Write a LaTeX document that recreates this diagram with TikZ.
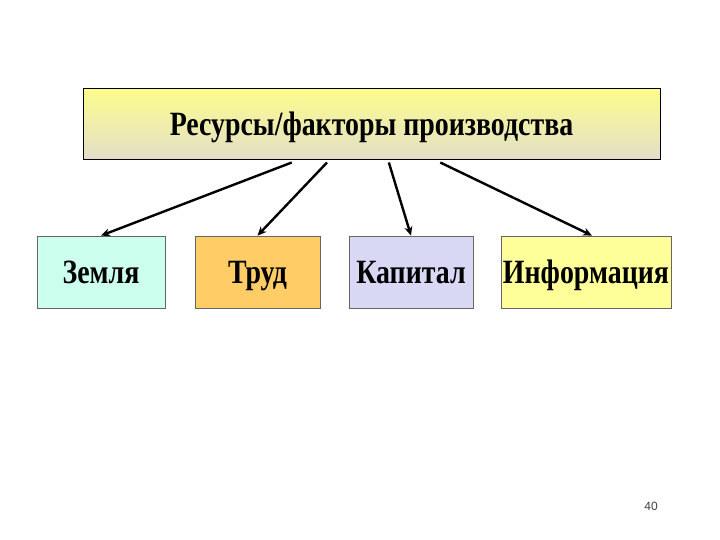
\documentclass[tikz,border=0pt]{standalone}
\usepackage{fontspec}
\setmainfont{Liberation Serif}
\newfontfamily\boxfont[FakeStretch=0.82]{Liberation Serif}
\newfontfamily\pagefont{Liberation Sans}
\usetikzlibrary{arrows.meta,calc}
\definecolor{zemlya}{RGB}{204,255,238}
\definecolor{trud}{RGB}{255,204,102}
\definecolor{kapital}{RGB}{216,216,244}
\definecolor{inform}{RGB}{255,255,153}
\tikzset{
  boxtext/.style={font=\boxfont\bfseries\fontsize{34}{34}\selectfont,inner sep=0pt,
    text height=22.5pt,text depth=0pt},
  factor/.style={boxtext,draw=black!60,line width=0.8pt,minimum height=72pt},
  link/.style={line width=2.4pt,-{Stealth[length=9pt,width=8pt]}}
}

\begin{document}
\begin{tikzpicture}[x=1pt,y=-1pt]
    \useasboundingbox (0,0) rectangle (720,540);
    \node[boxtext,draw,line width=1pt,top color={rgb,255:red,252;green,252;blue,140},
      bottom color={rgb,255:red,226;green,222;blue,202},
      minimum width=577pt,minimum height=71pt] (res) at (371.5,124.5) {Ресурсы/факторы производства};
    \node[factor,fill=zemlya,minimum width=128pt] (zem) at (101,272) {Земля};
    \node[factor,fill=trud,minimum width=125pt] (trd) at (257.5,272) {Труд};
    \node[factor,fill=kapital,minimum width=124pt] (kap) at (411,272) {Капитал};
    \node[factor,fill=inform,minimum width=170pt] (inf) at (586,272) {Информация};
    \draw[link] ($(res.south west)!0.362!(res.south east)+(0,2)$) -- (zem.north);
    \draw[link] ($(res.south west)!0.423!(res.south east)+(0,2)$) -- (trd.north);
    \draw[link] ($(res.south west)!0.530!(res.south east)+(0,2)$) -- (kap.north);
    \draw[link] ($(res.south west)!0.619!(res.south east)+(0,2)$) -- ([xshift=6pt]inf.north);
    \node[font=\pagefont\fontsize{12}{12}\selectfont,text=black!75] (num) at (651,506) {40};
\end{tikzpicture}
\end{document}
